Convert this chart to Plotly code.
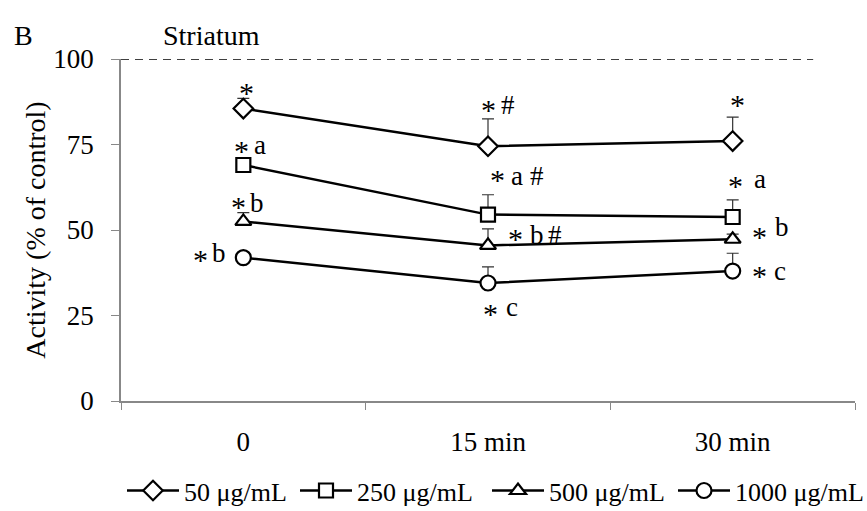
import plotly.graph_objects as go

categories = ["0", "15 min", "30 min"]
series_names = ["50 μg/mL", "250 μg/mL", "500 μg/mL", "1000 μg/mL"]
v50 = [85.5, 74.5, 76.0]
v250 = [69.0, 54.5, 53.8]
v500 = [52.5, 45.5, 47.3]
v1000 = [41.9, 34.5, 38.0]
e50 = [3.0, 8.0, 7.0]
e250 = [1.5, 5.8, 5.0]
e500 = [2.6, 4.8, 1.5]
e1000 = [1.5, 4.7, 5.2]
symbols = ["diamond", "square", "triangle-up", "circle"]
marker_sizes = [15, 14, 14, 15]

values = [v50, v250, v500, v1000]
errors = [e50, e250, e500, e1000]

# significance marks: (series index, category index, text, dx px, dy px)
sig_marks = [
    (0, 0, "*", 3, 16),
    (1, 0, "*", -2, 15), (1, 0, "a", 17, 20),
    (2, 0, "*", -5, 15), (2, 0, "b", 14, 18),
    (3, 0, "*", -43, -2), (3, 0, "b", -24, 5),
    (0, 1, "*", 0, 37), (0, 1, "#", 20, 41),
    (1, 1, "*", 9, 35), (1, 1, "a", 29, 39), (1, 1, "#", 49, 39),
    (2, 1, "*", 27, 7), (2, 1, "b", 49, 10), (2, 1, "#", 67, 10),
    (3, 1, "*", 2, -30), (3, 1, "c", 24, -24),
    (0, 2, "*", 5, 37),
    (1, 2, "*", 3, 32), (1, 2, "a", 27, 38),
    (2, 2, "*", 27, 3), (2, 2, "b", 49, 12),
    (3, 2, "*", 27, -4), (3, 2, "c", 47, 0),
]

# left pixel of each legend entry
legend_px = [122, 295, 487, 673]

FONT = "Liberation Serif, Times New Roman, DejaVu Serif, serif"
fig = go.Figure()
legend_ids = ["legend", "legend2", "legend3", "legend4"]
for name, vals, errs, sym, ms, lid in zip(series_names, values, errors, symbols, marker_sizes, legend_ids):
    fig.add_trace(go.Scatter(
        x=categories, y=vals, name=name, mode="lines+markers", legend=lid,
        line=dict(color="black", width=2.5),
        marker=dict(symbol=sym, size=ms, color="white", line=dict(width=2.2, color="black")),
        error_y=dict(type="data", symmetric=False, array=errs, arrayminus=[0] * len(errs),
                     color="#333333", thickness=1.2, width=6),
        cliponaxis=False,
    ))

for si, ci, txt, dx, dy in sig_marks:
    fig.add_annotation(x=categories[ci], y=values[si][ci], text=txt, showarrow=False,
                       xshift=dx, yshift=dy, xanchor="center", yanchor="middle",
                       font=dict(family=FONT, size=30 if txt == "*" else 27, color="black"))

fig.add_annotation(x=(12 - 121) / 734, y=1 + 24 / 342, xref="paper", yref="paper", text="B",
                   showarrow=False, xanchor="left", yanchor="middle",
                   font=dict(family=FONT, size=28, color="black"))
fig.add_annotation(x=(211 - 121) / 734, y=1 + 24 / 342, xref="paper", yref="paper", text="Striatum",
                   showarrow=False, xanchor="center", yanchor="middle",
                   font=dict(family=FONT, size=28, color="black"))

fig.add_shape(type="line", xref="paper", yref="y", x0=0, x1=0.943, y0=100, y1=100,
              line=dict(color="black", width=1.6, dash="8px,6px"))

legend_style = dict(orientation="h", y=-0.262, yanchor="middle", xanchor="left",
                    font=dict(family=FONT, size=26, color="black"), itemwidth=52,
                    bgcolor="rgba(0,0,0,0)", borderwidth=0)
legends = {}
for lid, px in zip(legend_ids, legend_px):
    legends[lid] = dict(legend_style, x=(px - 121) / 734)

fig.update_layout(
    width=867, height=511,
    margin=dict(l=121, r=12, t=59, b=110, autoexpand=False),
    paper_bgcolor="white", plot_bgcolor="white",
    font=dict(family=FONT, size=27, color="black"),
    showlegend=True,
    **legends,
    xaxis=dict(type="category", range=[-0.5, 2.5], showgrid=False, showline=True,
               linecolor="#888888", linewidth=1.5, ticks="outside", ticklen=7,
               tickcolor="#888888", tickson="boundaries", ticklabelstandoff=16,
               tickfont=dict(family=FONT, size=27), zeroline=False, automargin=False),
    yaxis=dict(range=[0, 100], tickvals=[0, 25, 50, 75, 100], showgrid=False, showline=True,
               linecolor="#888888", linewidth=1.5, ticks="outside", ticklen=8,
               tickcolor="#888888", ticklabelstandoff=12, zeroline=False, automargin=False,
               tickfont=dict(family=FONT, size=27),
               title=dict(text="Activity (% of control)", font=dict(family=FONT, size=28), standoff=0)),
)

fig.write_html("out.html", config={"displayModeBar": False},
               post_script="document.body.style.margin='0';document.body.style.overflow='hidden';")
